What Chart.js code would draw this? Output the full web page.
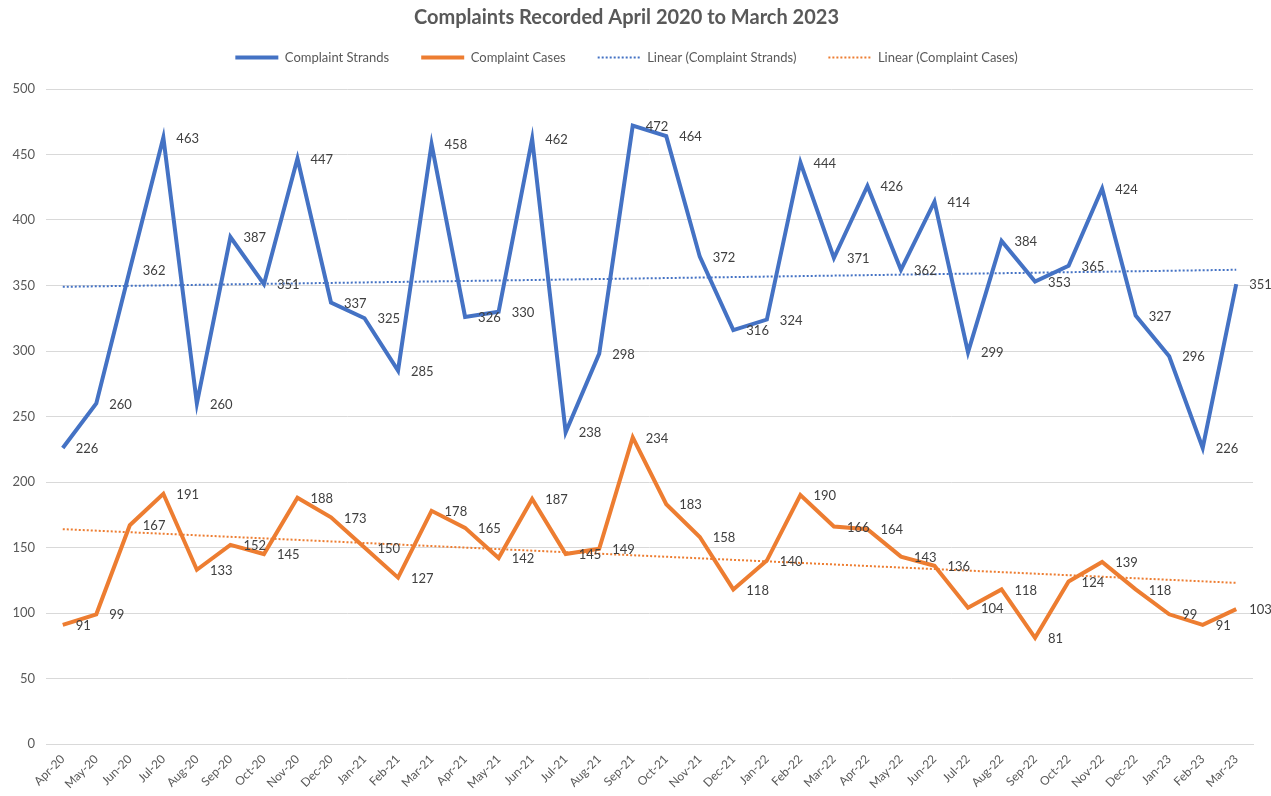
<!DOCTYPE html>
<html><head><meta charset="utf-8">
<script src="https://cdn.jsdelivr.net/npm/chart.js@4/dist/chart.umd.min.js"></script>
<style>html,body{margin:0;padding:0;background:#fff}#wrap{width:1271px;height:796px}</style>
</head><body><div id="wrap"><canvas id="c" width="1271" height="796"></canvas></div>
<script>
const categories = ["Apr-20","May-20","Jun-20","Jul-20","Aug-20","Sep-20","Oct-20","Nov-20","Dec-20","Jan-21","Feb-21","Mar-21","Apr-21","May-21","Jun-21","Jul-21","Aug-21","Sep-21","Oct-21","Nov-21","Dec-21","Jan-22","Feb-22","Mar-22","Apr-22","May-22","Jun-22","Jul-22","Aug-22","Sep-22","Oct-22","Nov-22","Dec-22","Jan-23","Feb-23","Mar-23"];
const complaintStrands = [226,260,362,463,260,387,351,447,337,325,285,458,326,330,462,238,298,472,464,372,316,324,444,371,426,362,414,299,384,353,365,424,327,296,226,351];
const complaintCases = [91,99,167,191,133,152,145,188,173,150,127,178,165,142,187,145,149,234,183,158,118,140,190,166,164,143,136,104,118,81,124,139,118,99,91,103];
const trendStrandsEnds = [349, 362];
const trendCasesEnds = [164, 123];
const yTicks = [0,50,100,150,200,250,300,350,400,450,500];

function endsSeries(ends){
  return categories.map((c,i)=> i===0 ? ends[0] : (i===categories.length-1 ? ends[1] : null));
}

const FONT = "Lato, 'Open Sans', sans-serif";
const BLUE = "#4472C4", ORANGE = "#ED7D31";

const labelPlugin = {
  id:'dataLabels',
  afterDatasetsDraw(chart){
    const ctx = chart.ctx;
    ctx.save();
    ctx.font = "13px " + FONT;
    ctx.fillStyle = "#404040";
    ctx.textAlign = "left";
    ctx.textBaseline = "middle";
    [0,1].forEach(di=>{
      const meta = chart.getDatasetMeta(di);
      const data = chart.data.datasets[di].data;
      meta.data.forEach((pt,i)=>{
        ctx.fillText(String(data[i]), pt.x + 13, pt.y + 1);
      });
    });
    ctx.restore();
  }
};
const legendSpace = {
  id:'legendSpace',
  beforeInit(chart){
    const lg = chart.legend;
    if(!lg) return;
    const fit = lg.fit;
    lg.fit = function(){ fit.call(lg); this.height += 15; };
  }
};

new Chart(document.getElementById('c'), {
  type:'line',
  data:{
    labels: categories,
    datasets:[
      {label:'Complaint Strands', data: complaintStrands, borderColor: BLUE, backgroundColor: BLUE, borderWidth:4, pointRadius:0, tension:0, order:1},
      {label:'Complaint Cases', data: complaintCases, borderColor: ORANGE, backgroundColor: ORANGE, borderWidth:4, pointRadius:0, tension:0, order:2},
      {label:'Linear (Complaint Strands)', data: endsSeries(trendStrandsEnds), spanGaps:true, borderColor: BLUE, backgroundColor: BLUE, borderWidth:2, borderDash:[2,2], pointRadius:0, order:3},
      {label:'Linear (Complaint Cases)', data: endsSeries(trendCasesEnds), spanGaps:true, borderColor: ORANGE, backgroundColor: ORANGE, borderWidth:2, borderDash:[2,2], pointRadius:0, order:4}
    ]
  },
  options:{
    responsive:false,
    animation:false,
    layout:{padding:{left:0,right:18,top:0,bottom:0}},
    plugins:{
      title:{display:true, text:'Complaints Recorded April 2020 to March 2023', color:'#595959', font:{family:FONT, size:20, weight:'bold'}, padding:{top:6,bottom:-11}},
      legend:{display:true, position:'top', labels:{
        color:'#595959', font:{family:FONT, size:13}, usePointStyle:true, pointStyle:'line', pointStyleWidth:43, padding:32,
        generateLabels(chart){
          return chart.data.datasets.map((ds,i)=>({
            text: ds.label, fillStyle: ds.borderColor, strokeStyle: ds.borderColor,
            lineWidth: ds.borderWidth, lineDash: ds.borderDash || [], pointStyle:'line',
            fontColor:'#595959', hidden:false, datasetIndex:i
          }));
        }
      }},
      tooltip:{enabled:false}
    },
    scales:{
      x:{
        offset:true,
        grid:{display:false, drawTicks:true, tickLength:6, color:'#d9d9d9'},
        border:{display:true, color:'#d9d9d9'},
        ticks:{color:'#595959', font:{family:FONT, size:12}, minRotation:45, maxRotation:45, autoSkip:false, padding:2},
        afterFit(s){ s.height = 52; }
      },
      y:{
        min:0, max:500,
        afterBuildTicks(s){ s.ticks = yTicks.map(v=>({value:v})); },
        grid:{color:'#d9d9d9', drawTicks:false},
        border:{display:false},
        ticks:{color:'#595959', font:{family:FONT, size:13}, padding:11},
        afterFit(s){ s.width = 46; }
      }
    }
  },
  plugins:[labelPlugin, legendSpace]
});
</script></body></html>
